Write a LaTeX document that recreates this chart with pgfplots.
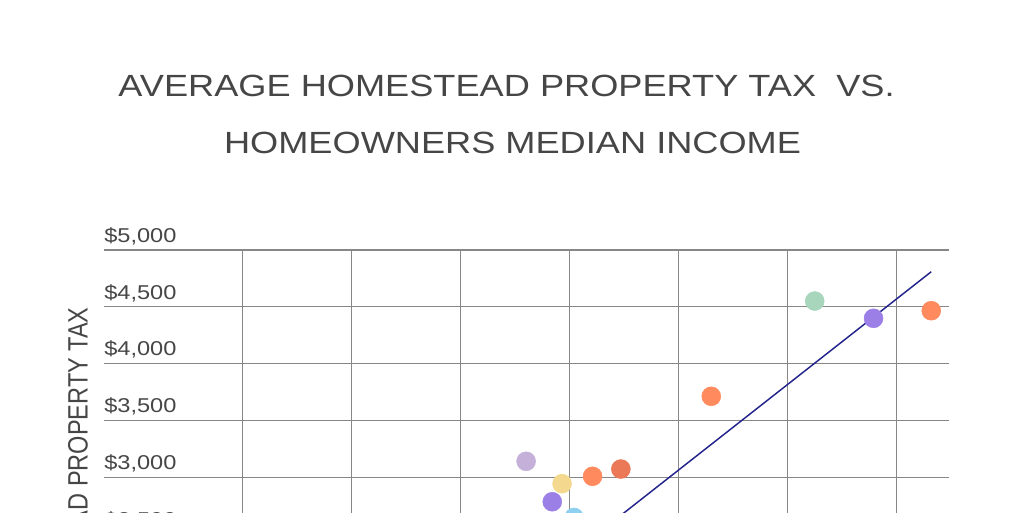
\documentclass[border=0pt]{standalone}
\usepackage{pgfplots}
\pgfplotsset{compat=1.18}
\usepackage{fontspec}
\setmainfont{Liberation Sans}
\newfontfamily\wide{Liberation Sans}[FakeStretch=1.18]
\newfontfamily\narrow{Liberation Sans}[FakeStretch=0.84]
\definecolor{txt}{RGB}{70,70,70}
\definecolor{gridc}{RGB}{135,135,135}
\definecolor{cgreen}{RGB}{168,214,188}
\definecolor{cpurple}{RGB}{155,127,230}
\definecolor{corange}{RGB}{255,138,94}
\definecolor{clav}{RGB}{196,176,217}
\definecolor{cyellow}{RGB}{244,216,141}
\definecolor{cdorange}{RGB}{235,120,87}
\definecolor{cblue}{RGB}{141,208,240}
\definecolor{cline}{RGB}{35,35,140}
\begin{document}
\begin{tikzpicture}
\path[use as bounding box] (0,0) rectangle (768pt,-384pt);
\clip (0,0) rectangle (768pt,-384pt);
\node[anchor=base, text=txt, font=\wide\fontsize{23}{23}\selectfont, inner sep=0pt] at (379.9pt,-72pt) {AVERAGE HOMESTEAD PROPERTY TAX\ \ VS.};
\node[anchor=base, text=txt, font=\wide\fontsize{23}{23}\selectfont, inner sep=0pt] at (384.4pt,-114.75pt) {HOMEOWNERS MEDIAN INCOME};
\begin{axis}[
  at={(78pt,-187.5pt)}, anchor=north west,
  scale only axis, width=633.75pt, height=426.2pt,
  xmin=17.24, xmax=94.83, ymin=0, ymax=5000,
  axis line style={draw=none},
  major tick length=0pt,
  grid=major,
  grid style={gridc, line width=0.8pt},
  xtick={30,40,50,60,70,80,90},
  xticklabels={},
  ytick={0,500,1000,1500,2000,2500,3000,3500,4000,4500,5000},
  yticklabels={{},{},{},{},{},{\$2,500},{\$3,000},{\$3,500},{\$4,000},{\$4,500},{\$5,000}},
  yticklabel style={anchor=base west, inner xsep=0pt, inner ysep=0pt, yshift=5.8pt, text=txt, font=\wide\fontsize{15}{15}\selectfont},
  ylabel={AVERAGE HOMESTEAD PROPERTY TAX},
  ylabel style={at={(axis description cs:-0.0193,0.5)}, anchor=base, rotate=0, text=txt, font=\narrow\fontsize{21}{21}\selectfont, inner sep=0pt},
  clip=false,
  every axis plot/.append style={only marks, mark=*, mark size=7.1pt},
]
\addplot[cgreen, mark options={draw=cgreen, fill=cgreen}] coordinates {(82.5,4551)};
\addplot[cpurple, mark options={draw=cpurple, fill=cpurple}] coordinates {(87.9,4399) (58.4,2785)};
\addplot[corange, mark options={draw=corange, fill=corange}] coordinates {(93.2,4466) (73.0,3713) (62.1,3009)};
\addplot[clav, mark options={draw=clav, fill=clav}] coordinates {(56.0,3141)};
\addplot[cyellow, mark options={draw=cyellow, fill=cyellow}] coordinates {(59.3,2944)};
\addplot[cdorange, mark options={draw=cdorange, fill=cdorange}] coordinates {(64.7,3073)};
\addplot[cblue, mark options={draw=cblue, fill=cblue}] coordinates {(60.4,2647)};
\addplot[cline, line width=1.1pt, no marks, sharp plot] coordinates {(55,1936) (93.2,4809)};
\end{axis}
\end{tikzpicture}
\end{document}
